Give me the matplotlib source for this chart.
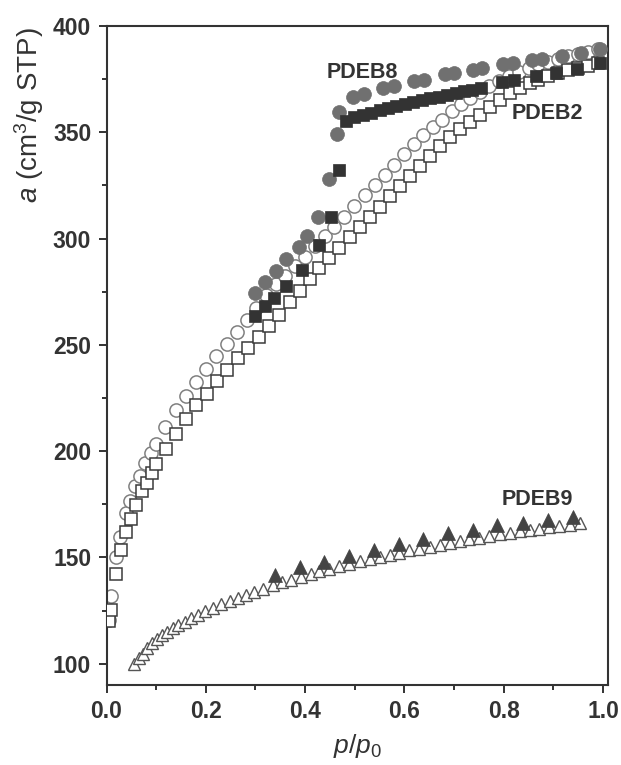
import matplotlib
matplotlib.use("Agg")
import matplotlib.pyplot as plt
from matplotlib.ticker import MultipleLocator

plt.rcParams['font.family'] = ['Liberation Sans', 'DejaVu Sans']
plt.rcParams['mathtext.fontset'] = 'custom'
plt.rcParams['mathtext.rm'] = 'Liberation Sans'
plt.rcParams['mathtext.it'] = 'Liberation Sans:italic'

# PDEB8 isotherm (adsorption: open circles, desorption: filled circles)
pdeb8_ads_p = [0.005, 0.009, 0.019, 0.027, 0.039, 0.048, 0.058, 0.067, 0.078, 0.089, 0.099,
               0.117, 0.139, 0.160, 0.181, 0.201, 0.221, 0.242, 0.263, 0.283, 0.302, 0.321,
               0.341, 0.360, 0.379, 0.399, 0.419, 0.440, 0.459, 0.479, 0.499, 0.520, 0.540,
               0.560, 0.580, 0.599, 0.619, 0.638, 0.657, 0.676, 0.695, 0.714, 0.733, 0.752,
               0.771, 0.790, 0.810, 0.830, 0.850, 0.870, 0.890, 0.910, 0.930, 0.950, 0.970, 0.990]
pdeb8_ads_a = [120.8, 131.8, 150.3, 159.7, 171.0, 176.5, 183.5, 188.2, 194.5, 199.2, 203.6,
               211.3, 219.3, 225.9, 232.4, 238.7, 244.7, 250.5, 256.0, 261.5, 267.4, 273.4,
               278.4, 282.5, 287.0, 291.5, 296.4, 301.1, 305.5, 310.2, 315.2, 320.3, 325.0,
               330.1, 334.8, 339.6, 344.3, 348.5, 352.5, 356.0, 359.9, 363.1, 366.3, 369.0,
               371.8, 374.3, 376.5, 378.5, 380.3, 381.9, 383.3, 384.6, 385.8, 387.0, 388.0, 389.0]
pdeb8_des_p = [0.300, 0.320, 0.342, 0.362, 0.387, 0.403, 0.426, 0.449, 0.464, 0.468, 0.496,
               0.518, 0.556, 0.579, 0.620, 0.640, 0.681, 0.699, 0.738, 0.757, 0.798, 0.818,
               0.857, 0.877, 0.918, 0.956, 0.994]
pdeb8_des_a = [274.3, 279.7, 284.7, 290.2, 296.1, 301.1, 310.2, 328.1, 349.2, 359.7, 366.5,
               368.2, 370.9, 372.0, 374.0, 374.8, 377.2, 378.0, 379.4, 380.3, 381.9, 382.7,
               384.0, 384.4, 386.0, 387.5, 389.0]

# PDEB2 isotherm (adsorption: open squares, desorption: filled squares)
pdeb2_ads_p = [0.006, 0.009, 0.019, 0.030, 0.040, 0.049, 0.060, 0.072, 0.082, 0.091, 0.100,
               0.119, 0.140, 0.161, 0.181, 0.202, 0.222, 0.243, 0.265, 0.286, 0.307, 0.327,
               0.348, 0.369, 0.389, 0.409, 0.429, 0.449, 0.469, 0.491, 0.511, 0.531, 0.551,
               0.571, 0.592, 0.612, 0.632, 0.652, 0.672, 0.692, 0.712, 0.732, 0.752, 0.772,
               0.792, 0.812, 0.832, 0.852, 0.870, 0.889, 0.909, 0.929, 0.949, 0.969, 0.990]
pdeb2_ads_a = [120.0, 125.5, 142.0, 153.7, 162.0, 168.3, 174.9, 181.2, 185.1, 189.5, 194.0,
               201.2, 208.3, 214.9, 221.5, 227.1, 232.9, 238.4, 243.6, 248.6, 253.8, 259.0,
               264.0, 270.0, 275.5, 280.8, 286.0, 291.0, 295.7, 300.6, 305.5, 310.2, 315.0,
               320.0, 324.6, 329.3, 334.0, 338.8, 343.5, 347.8, 351.5, 355.0, 358.3, 361.8,
               365.0, 368.3, 371.0, 373.3, 374.8, 376.4, 378.0, 379.1, 380.3, 381.2, 382.5]
pdeb2_des_p = [0.300, 0.320, 0.337, 0.362, 0.393, 0.429, 0.452, 0.469, 0.482, 0.499, 0.516,
               0.533, 0.550, 0.567, 0.584, 0.601, 0.618, 0.635, 0.652, 0.669, 0.686, 0.703,
               0.720, 0.737, 0.754, 0.797, 0.820, 0.865, 0.906, 0.947, 0.994]
pdeb2_des_a = [263.7, 268.2, 272.1, 277.9, 285.4, 297.2, 310.2, 332.2, 355.5, 357.0, 358.2,
               359.3, 360.4, 361.4, 362.4, 363.3, 364.2, 365.1, 366.0, 366.8, 367.6, 368.4,
               369.2, 370.0, 370.8, 373.5, 374.5, 376.5, 378.0, 379.8, 382.5]

# PDEB9 isotherm (adsorption: open triangles, desorption: filled triangles)
pdeb9_ads_p = [0.055, 0.065, 0.073, 0.082, 0.091, 0.101, 0.111, 0.122, 0.134, 0.145, 0.158,
               0.171, 0.185, 0.199, 0.214, 0.231, 0.248, 0.264, 0.281, 0.298, 0.316, 0.335,
               0.354, 0.372, 0.392, 0.412, 0.429, 0.449, 0.469, 0.489, 0.510, 0.530, 0.550,
               0.570, 0.590, 0.610, 0.630, 0.651, 0.671, 0.691, 0.711, 0.731, 0.751, 0.771,
               0.792, 0.812, 0.832, 0.852, 0.872, 0.892, 0.912, 0.933, 0.953]
pdeb9_ads_a = [99.8, 102.5, 104.8, 107.2, 109.6, 111.6, 113.4, 115.0, 116.6, 118.1, 119.7,
               121.3, 122.8, 124.7, 126.3, 127.9, 129.4, 131.0, 132.4, 133.8, 135.2, 136.8,
               138.3, 139.6, 141.0, 142.3, 143.4, 144.6, 145.8, 147.0, 148.1, 149.2, 150.3,
               151.3, 152.3, 153.3, 154.2, 155.1, 156.0, 156.9, 157.7, 158.5, 159.3, 160.1,
               160.9, 161.6, 162.3, 163.0, 163.6, 164.2, 164.8, 165.4, 166.0]
pdeb9_des_p = [0.340, 0.389, 0.439, 0.488, 0.538, 0.589, 0.637, 0.687, 0.738, 0.786, 0.839,
               0.889, 0.939]
pdeb9_des_a = [141.7, 145.3, 148.0, 150.8, 153.6, 156.2, 158.6, 161.3, 163.0, 165.2, 166.1,
               167.5, 168.8]

sample_labels = ["PDEB8", "PDEB2", "PDEB9"]
label_pos = [(0.516, 378.0), (0.888, 359.0), (0.867, 177.3)]

x_ticks = [0.0, 0.2, 0.4, 0.6, 0.8, 1.0]
y_ticks = [100, 150, 200, 250, 300, 350, 400]

DARK = "#333333"
GREY = "#707070"

fig = plt.figure(figsize=(6.21, 7.65), dpi=100)
ax = fig.add_axes([0.1715, 0.1046, 0.8075, 0.8614])

ax.plot(pdeb8_ads_p, pdeb8_ads_a, ls='none', marker='o', ms=9.5, mfc='white',
        mec='#808080', mew=1.1, zorder=2)
ax.plot(pdeb2_ads_p, pdeb2_ads_a, ls='none', marker='s', ms=8.5, mfc='white',
        mec='#3a3a3a', mew=1.1, zorder=3)
ax.plot(pdeb8_des_p, pdeb8_des_a, ls='none', marker='o', ms=10, mfc=GREY,
        mec=GREY, mew=0.5, zorder=4)
ax.plot(pdeb2_des_p, pdeb2_des_a, ls='none', marker='s', ms=9, mfc=DARK,
        mec=DARK, mew=0.5, zorder=5)
ax.plot(pdeb9_ads_p, pdeb9_ads_a, ls='none', marker='^', ms=8.5, mfc='white',
        mec='#555555', mew=1.0, zorder=3)
ax.plot(pdeb9_des_p, pdeb9_des_a, ls='none', marker='^', ms=10, mfc='#444444',
        mec='#444444', mew=0.5, zorder=4)

for name, (px, py) in zip(sample_labels, label_pos):
    ax.text(px, py, name, ha='center', va='center', fontsize=15.5,
            fontweight='bold', color=DARK, zorder=6)

ax.set_xlim(0.0, 1.01)
ax.set_ylim(90, 400)
ax.set_xticks(x_ticks)
ax.set_yticks(y_ticks)
ax.set_xticklabels([f"{v:.1f}" for v in x_ticks])
ax.set_yticklabels([str(v) for v in y_ticks])
ax.xaxis.set_minor_locator(MultipleLocator(0.1))
ax.yaxis.set_minor_locator(MultipleLocator(25))

ax.tick_params(which='both', direction='out', top=False, right=False, color=DARK,
               width=1.4)
ax.tick_params(which='major', length=6, pad=5, labelsize=16.5, labelcolor=DARK)
ax.tick_params(which='minor', length=3.5)
for lab in ax.get_xticklabels() + ax.get_yticklabels():
    lab.set_fontweight('bold')

for sp in ax.spines.values():
    sp.set_color(DARK)
    sp.set_linewidth(1.5)

ax.set_xlabel(r"$\it{p}/\it{p}_{\rm{0}}$", fontsize=19, color=DARK, labelpad=6)
ax.set_ylabel(r"$\it{a}$ (cm$^{3}$/g STP)", fontsize=20, color=DARK)
ax.yaxis.set_label_coords(-0.12, 0.865)

fig.savefig("out.png", dpi=100)
